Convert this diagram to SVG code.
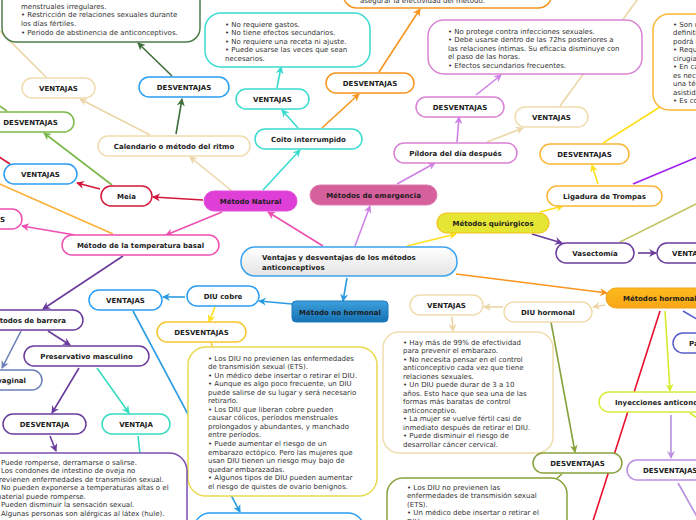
<svg xmlns="http://www.w3.org/2000/svg" width="696" height="520" viewBox="0 0 696 520">
<style>
.lb{font-family:"DejaVu Sans",Verdana,sans-serif;font-size:7px;font-weight:bold;fill:#1c1c1c;text-anchor:middle}
.ls{text-anchor:start}
.le{text-anchor:end}
.bt{font-family:"DejaVu Sans",Verdana,sans-serif;font-size:7px;fill:#333}
.b{fill:#fff;stroke-width:1.5}
.c{fill:none;stroke-width:1.6}
</style>
<defs>
<linearGradient id="gMain" x1="0" y1="0" x2="0" y2="1"><stop offset="0" stop-color="#ffffff"/><stop offset="1" stop-color="#e4e4e4"/></linearGradient>
<linearGradient id="gBlue" x1="0" y1="0" x2="0" y2="1"><stop offset="0" stop-color="#3ea0dc"/><stop offset="1" stop-color="#1572b4"/></linearGradient>
<linearGradient id="gOr" x1="0" y1="0" x2="0" y2="1"><stop offset="0" stop-color="#fdbb1c"/><stop offset="1" stop-color="#f8a617"/></linearGradient>
<marker id="mDg" viewBox="0 0 8 8" refX="7" refY="4" markerWidth="8" markerHeight="8" markerUnits="userSpaceOnUse" orient="auto"><path d="M0,0L8,4L0,8L2.5,4Z" fill="#3e6e3a"/></marker>
<marker id="mTan" viewBox="0 0 8 8" refX="7" refY="4" markerWidth="8" markerHeight="8" markerUnits="userSpaceOnUse" orient="auto"><path d="M0,0L8,4L0,8L2.5,4Z" fill="#ecd5a6"/></marker>
<marker id="mGr" viewBox="0 0 8 8" refX="7" refY="4" markerWidth="8" markerHeight="8" markerUnits="userSpaceOnUse" orient="auto"><path d="M0,0L8,4L0,8L2.5,4Z" fill="#7bb84a"/></marker>
<marker id="mRed" viewBox="0 0 8 8" refX="7" refY="4" markerWidth="8" markerHeight="8" markerUnits="userSpaceOnUse" orient="auto"><path d="M0,0L8,4L0,8L2.5,4Z" fill="#d3163a"/></marker>
<marker id="mPk" viewBox="0 0 8 8" refX="7" refY="4" markerWidth="8" markerHeight="8" markerUnits="userSpaceOnUse" orient="auto"><path d="M0,0L8,4L0,8L2.5,4Z" fill="#ee4fb0"/></marker>
<marker id="mCy" viewBox="0 0 8 8" refX="7" refY="4" markerWidth="8" markerHeight="8" markerUnits="userSpaceOnUse" orient="auto"><path d="M0,0L8,4L0,8L2.5,4Z" fill="#3adbd0"/></marker>
<marker id="mOr" viewBox="0 0 8 8" refX="7" refY="4" markerWidth="8" markerHeight="8" markerUnits="userSpaceOnUse" orient="auto"><path d="M0,0L8,4L0,8L2.5,4Z" fill="#f7941d"/></marker>
<marker id="mVi" viewBox="0 0 8 8" refX="7" refY="4" markerWidth="8" markerHeight="8" markerUnits="userSpaceOnUse" orient="auto"><path d="M0,0L8,4L0,8L2.5,4Z" fill="#cf82e6"/></marker>
<marker id="mYe" viewBox="0 0 8 8" refX="7" refY="4" markerWidth="8" markerHeight="8" markerUnits="userSpaceOnUse" orient="auto"><path d="M0,0L8,4L0,8L2.5,4Z" fill="#ffe01a"/></marker>
<marker id="mPu" viewBox="0 0 8 8" refX="7" refY="4" markerWidth="8" markerHeight="8" markerUnits="userSpaceOnUse" orient="auto"><path d="M0,0L8,4L0,8L2.5,4Z" fill="#6a3b9c"/></marker>
<marker id="mBl" viewBox="0 0 8 8" refX="7" refY="4" markerWidth="8" markerHeight="8" markerUnits="userSpaceOnUse" orient="auto"><path d="M0,0L8,4L0,8L2.5,4Z" fill="#2a9be0"/></marker>
<marker id="mOl" viewBox="0 0 8 8" refX="7" refY="4" markerWidth="8" markerHeight="8" markerUnits="userSpaceOnUse" orient="auto"><path d="M0,0L8,4L0,8L2.5,4Z" fill="#87a23c"/></marker>
<marker id="mLi" viewBox="0 0 8 8" refX="7" refY="4" markerWidth="8" markerHeight="8" markerUnits="userSpaceOnUse" orient="auto"><path d="M0,0L8,4L0,8L2.5,4Z" fill="#d6ec30"/></marker>
<marker id="mLa" viewBox="0 0 8 8" refX="7" refY="4" markerWidth="8" markerHeight="8" markerUnits="userSpaceOnUse" orient="auto"><path d="M0,0L8,4L0,8L2.5,4Z" fill="#b98ee0"/></marker>
<marker id="mSl" viewBox="0 0 8 8" refX="7" refY="4" markerWidth="8" markerHeight="8" markerUnits="userSpaceOnUse" orient="auto"><path d="M0,0L8,4L0,8L2.5,4Z" fill="#6b80b8"/></marker>
<marker id="mTe" viewBox="0 0 8 8" refX="7" refY="4" markerWidth="8" markerHeight="8" markerUnits="userSpaceOnUse" orient="auto"><path d="M0,0L8,4L0,8L2.5,4Z" fill="#35dcc0"/></marker>
<marker id="mYd" viewBox="0 0 8 8" refX="7" refY="4" markerWidth="8" markerHeight="8" markerUnits="userSpaceOnUse" orient="auto"><path d="M0,0L8,4L0,8L2.5,4Z" fill="#f7c62f"/></marker>
</defs>
<rect x="0" y="0" width="696" height="520" fill="#fff"/>
<g id="connectors">
<path class="c" stroke="#3e6e3a" d="M176,134L182,99" marker-end="url(#mDg)"/>
<path class="c" stroke="#3e6e3a" d="M172,76L138,43" marker-end="url(#mDg)"/>
<path class="c" stroke="#ecd5a6" d="M150,135L80,99" marker-end="url(#mTan)"/>
<path class="c" stroke="#ecd5a6" d="M46,77L0,31"/>
<path class="c" stroke="#ecd5a6" d="M232,191L190,157" marker-end="url(#mTan)"/>
<path class="c" stroke="#7bb84a" d="M112,185L44,133" marker-end="url(#mGr)"/>
<path class="c" stroke="#7bb84a" d="M7,111L-5,103"/>
<path class="c" stroke="#d3163a" d="M203,200L153,197" marker-end="url(#mRed)"/>
<path class="c" stroke="#d3163a" d="M100,189L77,183" marker-end="url(#mRed)"/>
<path class="c" stroke="#d3163a" d="M10,164L-4,155"/>
<path class="c" stroke="#ee4fb0" d="M222,212L166,235" marker-end="url(#mPk)"/>
<path class="c" stroke="#ee4fb0" d="M75,235L22,226" marker-end="url(#mPk)"/>
<path class="c" stroke="#fbb034" d="M113,234L-5,182"/>
<path class="c" stroke="#3adbd0" d="M263,190L300,150" marker-end="url(#mCy)"/>
<path class="c" stroke="#3adbd0" d="M298,128L282,110" marker-end="url(#mCy)"/>
<path class="c" stroke="#3adbd0" d="M277,88L281,67" marker-end="url(#mCy)"/>
<path class="c" stroke="#f7941d" d="M322,128L359,94" marker-end="url(#mOr)"/>
<path class="c" stroke="#f7941d" d="M379,72L420,9" marker-end="url(#mOr)"/>
<path class="c" stroke="#ee4fb0" d="M323,246L268,212" marker-end="url(#mPk)"/>
<path class="c" stroke="#cf82e6" d="M355,246L370,206" marker-end="url(#mVi)"/>
<path class="c" stroke="#cf82e6" d="M397,184L435,163" marker-end="url(#mVi)"/>
<path class="c" stroke="#cf82e6" d="M457,142L459,117" marker-end="url(#mVi)"/>
<path class="c" stroke="#cf82e6" d="M476,95L501,75" marker-end="url(#mVi)"/>
<path class="c" stroke="#ecd5a6" d="M487,142L523,128" marker-end="url(#mTan)"/>
<path class="c" stroke="#ecd5a6" d="M560,106L640,-4"/>
<path class="c" stroke="#ffe01a" d="M407,246L456,234" marker-end="url(#mYe)"/>
<path class="c" stroke="#ffe01a" d="M540,212L563,206" marker-end="url(#mYe)"/>
<path class="c" stroke="#ffe01a" d="M598,184L592,165" marker-end="url(#mYe)"/>
<path class="c" stroke="#ffe01a" d="M603,143L660,107"/>
<path class="c" stroke="#a020f0" d="M633,184L700,156"/>
<path class="c" stroke="#6a3b9c" d="M532,234L562,243" marker-end="url(#mPu)"/>
<path class="c" stroke="#6a3b9c" d="M638,253L656,253" marker-end="url(#mPu)"/>
<path class="c" stroke="#c5c86a" d="M620,242L700,202"/>
<path class="c" stroke="#f7941d" d="M456,274L607,293" marker-end="url(#mOr)"/>
<path class="c" stroke="#ecd5a6" d="M605,305L593,307" marker-end="url(#mTan)"/>
<path class="c" stroke="#ecd5a6" d="M503,307L484,307" marker-end="url(#mTan)"/>
<path class="c" stroke="#ecd5a6" d="M452,317L453,331" marker-end="url(#mTan)"/>
<path class="c" stroke="#87a23c" d="M551,322L575,452" marker-end="url(#mOl)"/>
<path class="c" stroke="#87a23c" d="M562,474L555,480"/>
<path class="c" stroke="#e8102e" d="M660,311L592,524"/>
<path class="c" stroke="#d6ec30" d="M665,311L670,391" marker-end="url(#mLi)"/>
<path class="c" stroke="#5a5ccc" d="M683,311L700,321"/>
<path class="c" stroke="#d6ec30" d="M690,413L700,420"/>
<path class="c" stroke="#b98ee0" d="M671,415L671,458" marker-end="url(#mLa)"/>
<path class="c" stroke="#b98ee0" d="M678,483L700,522"/>
<path class="c" stroke="#2a9be0" d="M347,278L343,301" marker-end="url(#mBl)"/>
<path class="c" stroke="#2a9be0" d="M292,304L259,301" marker-end="url(#mBl)"/>
<path class="c" stroke="#2a9be0" d="M185,297L163,297" marker-end="url(#mBl)"/>
<path class="c" stroke="#2a9be0" d="M133,311L240,512" marker-end="url(#mBl)"/>
<path class="c" stroke="#ffe01a" d="M215,307L209,322" marker-end="url(#mYe)"/>
<path class="c" stroke="#f7c62f" d="M211,343L213,348"/>
<path class="c" stroke="#6a3b9c" d="M123,256L43,309" marker-end="url(#mPu)"/>
<path class="c" stroke="#6a3b9c" d="M48,331L70,345" marker-end="url(#mPu)"/>
<path class="c" stroke="#6b80b8" d="M21,331L2,368" marker-end="url(#mSl)"/>
<path class="c" stroke="#6a3b9c" d="M79,368L52,413" marker-end="url(#mPu)"/>
<path class="c" stroke="#35dcc0" d="M97,368L129,413" marker-end="url(#mTe)"/>
<path class="c" stroke="#6a3b9c" d="M50,436L56,451" marker-end="url(#mPu)"/>
<path class="c" stroke="#35dcc0" d="M138,436L140,454"/>
</g>

<g id="n-ritmo-desv-content">
<rect class="b" x="2" y="-60" width="198" height="102" rx="14" stroke="#4e7d4a"/>
<text class="bt" x="21" y="8.5">menstruales irregulares.</text>
<text class="bt" x="21" y="17.3">• Restricción de relaciones sexuales durante</text>
<text class="bt" x="21" y="26">los días fértiles.</text>
<text class="bt" x="21" y="34.7">• Periodo de abstinencia de anticonceptivos.</text>
</g>
<g id="n-ritmo-vent"><rect class="b" x="22" y="78" width="73" height="20" rx="10" stroke="#f0dcae"/><text class="lb" x="58.5" y="91">VENTAJAS</text></g>
<g id="n-ritmo-desv"><rect class="b" x="139" y="77" width="90" height="20" rx="10" stroke="#2a9df4"/><text class="lb" x="184" y="90">DESVENTAJAS</text></g>
<g id="n-calendario"><rect class="b" x="98" y="136" width="152" height="20" rx="10" stroke="#f0dcae"/><text class="lb" x="174" y="149">Calendario o método del ritmo</text></g>
<g id="n-meia-desv"><rect class="b" x="-13" y="112" width="87" height="20" rx="10" stroke="#7bb84a"/><text class="lb" x="30.5" y="125">DESVENTAJAS</text></g>
<g id="n-meia-vent"><rect class="b" x="4" y="164" width="73" height="20" rx="10" stroke="#2a9df4"/><text class="lb" x="40.5" y="177">VENTAJAS</text></g>
<g id="n-meia"><rect class="b" x="101" y="186" width="51" height="20" rx="10" stroke="#d3163a"/><text class="lb" x="126.5" y="199">Meia</text></g>
<g id="n-natural"><rect x="204" y="191" width="93" height="20" rx="10" fill="#df3fd6" stroke="#e24fda" stroke-width="1"/><text class="lb" x="250.5" y="204">Método Natural</text></g>
<g id="n-temp-desv"><rect class="b" x="-67" y="209" width="89" height="20" rx="10" stroke="#ee4fb0"/><text class="lb le" x="5" y="222">DESVENTAJAS</text></g>
<g id="n-temperatura"><rect class="b" x="62" y="235" width="157" height="20" rx="10" stroke="#ee4fb0"/><text class="lb" x="140.5" y="248">Método de la temperatura basal</text></g>
<g id="n-coito"><rect class="b" x="255" y="129" width="107" height="20" rx="10" stroke="#3adbd0"/><text class="lb" x="308.5" y="142">Coito interrumpido</text></g>
<g id="n-coito-vent"><rect class="b" x="236" y="89" width="73" height="20" rx="10" stroke="#3adbd0"/><text class="lb" x="272.5" y="102">VENTAJAS</text></g>
<g id="n-coito-vent-content">
<rect class="b" x="205" y="13" width="165" height="54" rx="16" stroke="#3adbd0"/>
<text class="bt" x="225" y="26.5">• No requiere gastos.</text>
<text class="bt" x="225" y="35">• No tiene efectos secundarios.</text>
<text class="bt" x="225" y="43.5">• No requiere una receta ni ajuste.</text>
<text class="bt" x="225" y="52">• Puede usarse las veces que sean</text>
<text class="bt" x="225" y="60.5">necesarios.</text>
</g>
<g id="n-coito-desv"><rect class="b" x="326" y="73" width="88" height="20" rx="10" stroke="#f7941d"/><text class="lb" x="370" y="86">DESVENTAJAS</text></g>
<g id="n-coito-desv-content"><rect class="b" x="343" y="-40" width="209" height="48" rx="14" stroke="#f7941d"/><text class="bt" x="360" y="3">asegurar la efectividad del método.</text></g>
<g id="n-pildora-desv-content">
<rect class="b" x="428" y="20" width="214" height="54" rx="16" stroke="#d982d4"/>
<text class="bt" x="448" y="33.5">• No protege contra infecciones sexuales.</text>
<text class="bt" x="448" y="42">• Debe usarse dentro de las 72hs posteriores a</text>
<text class="bt" x="448" y="50.5">las relaciones íntimas. Su eficacia disminuye con</text>
<text class="bt" x="448" y="59">el paso de las horas.</text>
<text class="bt" x="448" y="67.5">• Efectos secundarios frecuentes.</text>
</g>
<g id="n-pildora-desv"><rect class="b" x="416" y="97" width="88" height="20" rx="10" stroke="#d982d4"/><text class="lb" x="460" y="110">DESVENTAJAS</text></g>
<g id="n-pildora-vent"><rect class="b" x="515" y="107" width="73" height="20" rx="10" stroke="#f0dcae"/><text class="lb" x="551.5" y="120">VENTAJAS</text></g>
<g id="n-pildora"><rect class="b" x="394" y="143" width="123" height="20" rx="10" stroke="#d982d4"/><text class="lb" x="455.5" y="156">Píldora del día después</text></g>
<g id="n-emergencia"><rect x="310" y="185" width="127" height="20" rx="10" fill="#d6609b" stroke="#e07ab0" stroke-width="1"/><text class="lb" x="373.5" y="198">Métodos de emergencia</text></g>
<g id="n-main"><rect x="241" y="247" width="216" height="29" rx="14" fill="url(#gMain)" stroke="#3aa3f0" stroke-width="1.5"/><text class="lb ls" x="262" y="260">Ventajas y desventajas de los métodos</text><text class="lb ls" x="262" y="269.5">anticonceptivos</text></g>
<g id="n-nohormonal"><rect x="292" y="301" width="96" height="21" rx="4" fill="url(#gBlue)" stroke="#1a7cc0" stroke-width="1"/><text class="lb" x="340" y="314.5">Método no hormonal</text></g>
<g id="n-diucobre"><rect class="b" x="187" y="286" width="72" height="20" rx="10" stroke="#2a9df4"/><text class="lb" x="223" y="299">DIU cobre</text></g>
<g id="n-diucobre-vent"><rect class="b" x="89" y="290" width="73" height="20" rx="10" stroke="#2a9df4"/><text class="lb" x="125.5" y="303">VENTAJAS</text></g>
<g id="n-diucobre-desv"><rect class="b" x="157" y="322" width="89" height="20" rx="10" stroke="#f7c62f"/><text class="lb" x="201.5" y="335">DESVENTAJAS</text></g>
<g id="n-diucobre-desv-content">
<rect class="b" x="188" y="347" width="189" height="149" rx="18" stroke="#e9da4e"/>
<text class="bt" x="208" y="360.5">• Los DIU no previenen las enfermedades</text>
<text class="bt" x="208" y="369">de transmisión sexual (ETS).</text>
<text class="bt" x="208" y="377.6">• Un médico debe insertar o retirar el DIU.</text>
<text class="bt" x="208" y="386.1">• Aunque es algo poco frecuente, un DIU</text>
<text class="bt" x="208" y="394.7">puede salirse de su lugar y será necesario</text>
<text class="bt" x="208" y="403.2">retirarlo.</text>
<text class="bt" x="208" y="411.8">• Los DIU que liberan cobre pueden</text>
<text class="bt" x="208" y="420.3">causar cólicos, períodos menstruales</text>
<text class="bt" x="208" y="428.9">prolongados y abundantes, y manchado</text>
<text class="bt" x="208" y="437.4">entre períodos.</text>
<text class="bt" x="208" y="446">• Puede aumentar el riesgo de un</text>
<text class="bt" x="208" y="454.5">embarazo ectópico. Pero las mujeres que</text>
<text class="bt" x="208" y="463.1">usan DIU tienen un riesgo muy bajo de</text>
<text class="bt" x="208" y="471.6">quedar embarazadas.</text>
<text class="bt" x="208" y="480.2">• Algunos tipos de DIU pueden aumentar</text>
<text class="bt" x="208" y="488.7">el riesgo de quistes de ovario benignos.</text>
</g>
<g id="n-diucobre-vent-content"><rect class="b" x="194" y="513" width="170" height="40" rx="16" stroke="#2a9df4"/></g>
<g id="n-barrera"><rect class="b" x="-27" y="310" width="110" height="20" rx="10" stroke="#6a3b9c"/><text class="lb le" x="66" y="323">Métodos de barrera</text></g>
<g id="n-preservativo"><rect class="b" x="24" y="346" width="125" height="20" rx="10" stroke="#6a3b9c"/><text class="lb" x="86.5" y="359">Preservativo masculino</text></g>
<g id="n-vaginal"><rect class="b" x="-60" y="370" width="102" height="20" rx="10" stroke="#6b80b8"/><text class="lb le" x="26" y="383">vaginal</text></g>
<g id="n-pres-desv"><rect class="b" x="3" y="414" width="83" height="20" rx="10" stroke="#6a3b9c"/><text class="lb" x="44.5" y="427">DESVENTAJA</text></g>
<g id="n-pres-vent"><rect class="b" x="102" y="414" width="68" height="20" rx="10" stroke="#35dcc0"/><text class="lb" x="136" y="427">VENTAJA</text></g>
<g id="n-pres-desv-content">
<rect class="b" x="-30" y="453" width="217" height="100" rx="18" stroke="#7a4fb0"/>
<text class="bt" x="-5.4" y="464.5">• Puede romperse, derramarse o salirse.</text>
<text class="bt" x="-5.4" y="473">• Los condones de intestino de oveja no</text>
<text class="bt" x="-5.4" y="481.6">previenen enfermedades de transmisión sexual.</text>
<text class="bt" x="-5.4" y="490.1">• No pueden exponerse a temperaturas altas o el</text>
<text class="bt" x="-5.4" y="498.7">material puede romperse.</text>
<text class="bt" x="-5.4" y="507.2">• Pueden disminuir la sensación sexual.</text>
<text class="bt" x="-5.4" y="515.8">• Algunas personas son alérgicas al látex (hule).</text>
</g>
<g id="n-quirurgicos"><rect x="437" y="213" width="112" height="20" rx="10" fill="#e5e533" stroke="#f2c21e" stroke-width="1.2"/><text class="lb" x="493" y="226">Métodos quirúrgicos</text></g>
<g id="n-ligadura"><rect class="b" x="547" y="186" width="115" height="20" rx="10" stroke="#f9b634"/><text class="lb" x="604.5" y="199">Ligadura de Trompas</text></g>
<g id="n-ligadura-desv"><rect class="b" x="540" y="144" width="89" height="20" rx="10" stroke="#f9b634"/><text class="lb" x="584.5" y="157">DESVENTAJAS</text></g>
<g id="n-ligadura-desv-content">
<rect class="b" x="653" y="14" width="120" height="96" rx="16" stroke="#f9b634"/>
<text class="bt" x="673" y="26.5">• Son m</text>
<text class="bt" x="673" y="35">definitiv</text>
<text class="bt" x="673" y="43.5">podrá r</text>
<text class="bt" x="673" y="52">• Requi</text>
<text class="bt" x="673" y="60.5">cirugía</text>
<text class="bt" x="673" y="69">• En ca</text>
<text class="bt" x="673" y="77.5">es nec</text>
<text class="bt" x="673" y="86">una técn</text>
<text class="bt" x="673" y="94.5">asistida</text>
<text class="bt" x="673" y="103">• Es co</text>
</g>
<g id="n-vasectomia"><rect class="b" x="556" y="243" width="78" height="20" rx="10" stroke="#6a3b9c"/><text class="lb" x="595" y="256">Vasectomía</text></g>
<g id="n-vasect-vent"><rect class="b" x="657" y="243" width="73" height="20" rx="10" stroke="#6a3b9c"/><text class="lb ls" x="672" y="256">VENTAJAS</text></g>
<g id="n-hormonales"><rect x="606" y="288" width="130" height="20" rx="10" fill="url(#gOr)" stroke="#f5a01a" stroke-width="1"/><text class="lb ls" x="623" y="301">Métodos hormonales</text></g>
<g id="n-diuhormonal"><rect class="b" x="504" y="302" width="88" height="20" rx="10" stroke="#f0dcae"/><text class="lb" x="548" y="315">DIU hormonal</text></g>
<g id="n-diuh-vent"><rect class="b" x="410" y="295" width="73" height="20" rx="10" stroke="#f0dcae"/><text class="lb" x="446.5" y="308">VENTAJAS</text></g>
<g id="n-diuh-vent-content">
<rect class="b" x="383" y="332" width="170" height="121" rx="16" stroke="#f0dcae"/>
<text class="bt" x="403" y="344.5">• Hay más de 99% de efectividad</text>
<text class="bt" x="403" y="353">para prevenir el embarazo.</text>
<text class="bt" x="403" y="361.5">• No necesita pensar en el control</text>
<text class="bt" x="403" y="370">anticonceptivo cada vez que tiene</text>
<text class="bt" x="403" y="378.5">relaciones sexuales.</text>
<text class="bt" x="403" y="387">• Un DIU puede durar de 3 a 10</text>
<text class="bt" x="403" y="395.5">años. Esto hace que sea una de las</text>
<text class="bt" x="403" y="404">formas más baratas de control</text>
<text class="bt" x="403" y="412.5">anticonceptivo.</text>
<text class="bt" x="403" y="421">• La mujer se vuelve fértil casi de</text>
<text class="bt" x="403" y="429.5">inmediato después de retirar el DIU.</text>
<text class="bt" x="403" y="438">• Puede disminuir el riesgo de</text>
<text class="bt" x="403" y="446.5">desarrollar cáncer cervical.</text>
</g>
<g id="n-diuh-desv"><rect class="b" x="533" y="453" width="89" height="20" rx="10" stroke="#87a23c"/><text class="lb" x="577.5" y="466">DESVENTAJAS</text></g>
<g id="n-diuh-desv-content">
<rect class="b" x="387" y="478" width="180" height="80" rx="16" stroke="#87a23c"/>
<text class="bt" x="407" y="489.5">• Los DIU no previenen las</text>
<text class="bt" x="407" y="498">enfermedades de transmisión sexual</text>
<text class="bt" x="407" y="506.5">(ETS).</text>
<text class="bt" x="407" y="515">• Un médico debe insertar o retirar el</text>
<text class="bt" x="407" y="523.5">DIU.</text>
</g>
<g id="n-parche"><rect class="b" x="673" y="333" width="100" height="20" rx="10" stroke="#5a5ccc"/><text class="lb ls" x="689" y="346">Pa</text></g>
<g id="n-inyecciones"><rect class="b" x="599" y="392" width="160" height="20" rx="10" stroke="#d8ec3c"/><text class="lb ls" x="615" y="405">Inyecciones anticonceptivas</text></g>
<g id="n-iny-desv"><rect class="b" x="627" y="460" width="89" height="20" rx="10" stroke="#b98ee0"/><text class="lb ls" x="643" y="473">DESVENTAJAS</text></g>
</svg>
